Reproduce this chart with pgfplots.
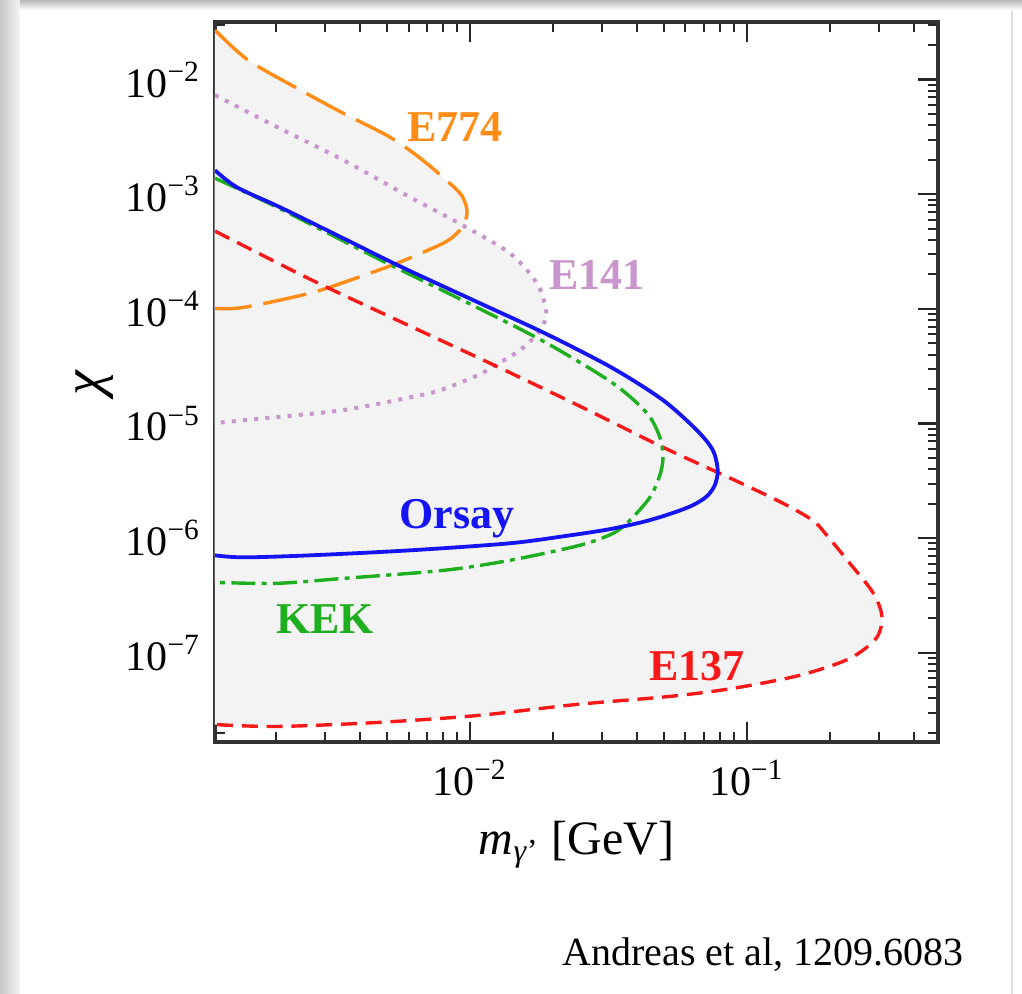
\documentclass[border=0pt]{standalone}
\usepackage{pgfplots}
\usepackage{pgfplotstable}
\pgfplotsset{compat=1.18}
\usepackage{fontspec}
\setmainfont{Liberation Serif}
\definecolor{corange}{RGB}{255,140,20}
\definecolor{cpurple}{RGB}{200,150,205}
\definecolor{cgreen}{RGB}{30,175,30}
\definecolor{cblue}{RGB}{20,20,245}
\definecolor{cred}{RGB}{250,25,25}
\definecolor{cfill}{RGB}{243,243,243}

\pgfplotstableread{
x y
0.0012 0.0270
0.00158 0.0148
0.00237 0.00843
0.00348 0.00510
0.00514 0.00315
0.00676 0.00198
0.00898 0.00109
0.00959 8.53e-4
0.00976 6.84e-4
0.00951 5.48e-4
0.00898 4.58e-4
0.00800 3.74e-4
0.00545 2.50e-4
0.00369 1.78e-4
0.00264 1.37e-4
0.00152 1.03e-4
0.0012 1.01e-4
}\eseventyfour

\pgfplotstableread{
x y
0.0012 7.32e-3
0.00201 3.86e-3
0.00348 1.99e-3
0.00607 9.44e-4
0.00898 5.71e-4
0.01394 3.06e-4
0.01745 1.68e-4
0.01866 1.08e-4
0.01881 8.29e-5
0.01758 6.14e-5
0.01516 4.36e-5
0.01251 3.29e-5
0.01069 2.64e-5
0.00779 1.95e-5
0.00607 1.69e-5
0.00348 1.31e-5
0.00201 1.14e-5
0.0012 1.01e-5
}\efourteenone

\pgfplotstableread{
x y
0.0012 1.62e-3
0.00144 1.15e-3
0.00206 7.71e-4
0.00320 4.58e-4
0.00558 2.36e-4
0.01087 1.12e-4
0.01897 6.01e-5
0.0328 3.04e-5
0.0498 1.60e-5
0.0660 8.74e-6
0.0754 5.85e-6
0.0785 3.91e-6
0.0766 2.90e-6
0.0717 2.32e-6
0.0638 1.94e-6
0.0536 1.65e-6
0.0428 1.40e-6
0.0320 1.20e-6
0.0230 1.06e-6
0.0139 9.03e-7
0.00607 7.84e-7
0.00264 7.09e-7
0.00152 6.81e-7
0.0012 7.09e-7
}\orsay

\pgfplotstableread{
x y
0.0012 1.38e-3
0.00201 7.71e-4
0.00462 2.77e-4
0.01060 1.03e-4
0.01897 5.02e-5
0.0328 2.25e-5
0.0436 1.23e-5
0.0485 7.60e-6
0.0498 5.09e-6
0.0485 3.54e-6
0.0447 2.28e-6
0.0378 1.43e-6
0.0328 1.10e-6
0.0249 8.67e-7
0.0139 6.41e-7
0.00800 5.24e-7
0.00348 4.46e-7
0.00201 4.04e-7
0.0012 4.12e-7
}\kek

\pgfplotstableread{
x y
0.0012 4.77e-4
0.00264 1.82e-4
0.00528 8.29e-5
0.01181 3.36e-5
0.0249 1.42e-5
0.0498 6.21e-6
0.0921 3.14e-6
0.1349 2.02e-6
0.1730 1.43e-6
0.1945 1.06e-6
0.2355 6.04e-7
0.2851 3.37e-7
0.3071 2.12e-7
0.2944 1.36e-7
0.2355 8.95e-8
0.1552 6.37e-8
0.0889 4.90e-8
0.0527 4.17e-8
0.0243 3.55e-8
0.0106 2.84e-8
0.00462 2.47e-8
0.00201 2.28e-8
0.0012 2.37e-8
}\eonethirtyseven

\begin{document}
\begin{tikzpicture}
\path[use as bounding box] (0pt,0pt) rectangle (255.5pt,248.5pt);
\fill[white] (0pt,0pt) rectangle (255.5pt,248.5pt);
\shade[left color=gray!45,right color=gray!8] (0pt,0pt) rectangle (5pt,248.5pt);
\shade[top color=gray!55,bottom color=white] (5pt,246pt) rectangle (255.5pt,248.5pt);
\draw[gray!25,line width=0.4pt] (253pt,0pt) -- (253pt,246pt);
\begin{axis}[
  at={(53.75pt,63pt)}, anchor=south west,
  scale only axis, width=180.75pt, height=180pt,
  xmode=log, ymode=log,
  xmin=0.0012, xmax=0.49, ymin=1.67e-8, ymax=0.0318,
  xtick={0.01,0.1},
  xticklabels={10\textsuperscript{−2},10\textsuperscript{−1}},
  ytick={1e-7,1e-6,1e-5,1e-4,1e-3,1e-2},
  yticklabels={10\textsuperscript{−7},10\textsuperscript{−6},10\textsuperscript{−5},10\textsuperscript{−4},10\textsuperscript{−3},10\textsuperscript{−2}},
  minor xtick={0.002,0.003,0.004,0.005,0.006,0.007,0.008,0.009,0.02,0.03,0.04,0.05,0.06,0.07,0.08,0.09,0.2,0.3,0.4},
  minor ytick={2e-8,3e-8,4e-8,5e-8,6e-8,7e-8,8e-8,9e-8,2e-7,3e-7,4e-7,5e-7,6e-7,7e-7,8e-7,9e-7,2e-6,3e-6,4e-6,5e-6,6e-6,7e-6,8e-6,9e-6,2e-5,3e-5,4e-5,5e-5,6e-5,7e-5,8e-5,9e-5,2e-4,3e-4,4e-4,5e-4,6e-4,7e-4,8e-4,9e-4,2e-3,3e-3,4e-3,5e-3,6e-3,7e-3,8e-3,9e-3,2e-2,3e-2},
  tick align=inside,
  major tick length=5pt, minor tick length=2.5pt,
  major tick style={black!85, line width=0.6pt},
  minor tick style={black!85, line width=0.5pt},
  axis line style={black!80, line width=0.9pt},
  tick label style={font=\fontsize{10.5}{12}\selectfont},
  xticklabel style={yshift=-1pt},
  xlabel={\textit{m}\textsubscript{\textit{γ}'} [GeV]},
  ylabel={\textit{χ}},
  every axis x label/.style={at={(axis description cs:0.5,-0.143)}, anchor=center, font=\fontsize{12}{14}\selectfont},
  every axis y label/.style={at={(axis description cs:-0.166,0.499)}, anchor=center, rotate=90, font=\fontsize{14}{16}\selectfont},
  clip=true,
]
% shaded excluded regions
\addplot[draw=none, fill=cfill, smooth] table {\eseventyfour} -- cycle;
\addplot[draw=none, fill=cfill, smooth] table {\efourteenone} -- cycle;
\addplot[draw=none, fill=cfill, smooth] table {\orsay} -- cycle;
\addplot[draw=none, fill=cfill, smooth] table {\kek} -- cycle;
\addplot[draw=none, fill=cfill, smooth] table {\eonethirtyseven} -- cycle;
% boundary curves
\addplot[corange, line width=0.85pt, smooth, dash pattern=on 11pt off 3pt] table {\eseventyfour};
\addplot[cpurple, line width=1pt, smooth, dash pattern=on 1pt off 1.8pt] table {\efourteenone};
\addplot[cred, line width=0.85pt, smooth, dash pattern=on 4pt off 2.2pt] table {\eonethirtyseven};
\addplot[cgreen, line width=0.85pt, smooth, dash pattern=on 6pt off 1.6pt on 1.2pt off 1.6pt] table {\kek};
\addplot[cblue, line width=0.95pt, smooth] table {\orsay};
% labels
\node[text=corange, font=\fontsize{11}{13}\selectfont\bfseries] at (axis cs:0.00883,3.86e-3) {E774};
\node[text=cpurple, font=\fontsize{11}{13}\selectfont\bfseries] at (axis cs:0.0287,1.97e-4) {E141};
\node[text=cblue, font=\fontsize{11}{13}\selectfont\bfseries] at (axis cs:0.00898,1.49e-6) {Orsay};
\node[text=cgreen, font=\fontsize{11}{13}\selectfont\bfseries] at (axis cs:0.0030,1.96e-7) {KEK};
\node[text=cred, font=\fontsize{11}{13}\selectfont\bfseries] at (axis cs:0.066,7.62e-8) {E137};
\end{axis}
\node[font=\fontsize{10}{12}\selectfont] at (190.75pt,9.75pt) {Andreas et al, 1209.6083};
\end{tikzpicture}
\end{document}
